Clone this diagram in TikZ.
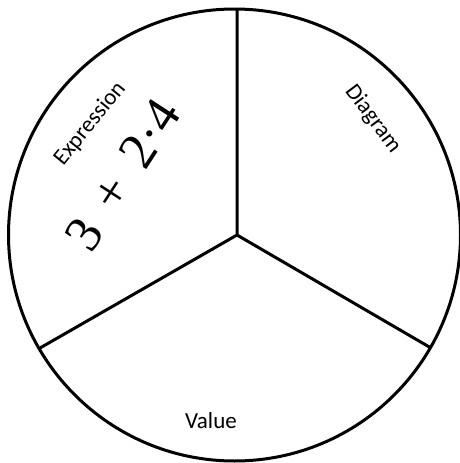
\documentclass[tikz,border=0pt]{standalone}
\usepackage{fontspec}
\setmainfont{Carlito}
\newfontfamily\serifnum{Liberation Serif}
\begin{document}
\begin{tikzpicture}[x=1pt,y=-1pt,line width=3pt,
	lbl/.style={font=\fontsize{23}{27}\selectfont},
	expr/.style={font=\serifnum\fontsize{52}{60}\selectfont}]
	\useasboundingbox (0,0) rectangle (460,463);
	\coordinate (mid) at (234.5,235);
	\coordinate (hub) at (237,235);
	\coordinate (top) at (237,9);
	\coordinate (left) at (40,348);
	\coordinate (right) at (431,348);
	\draw (mid) circle (226pt);
	\draw (hub)--(top) (hub)--(left) (hub)--(right);
	\node[lbl,rotate=51] (expression) at (90,124) {Expression};
	\node[expr,rotate=57] (sum) at (123,175) {3 \,+\, 2·4};
	\node[lbl,rotate=-53] (diagram) at (373,119) {Diagram};
	\node[lbl] (value) at (211,421) {Value};
\end{tikzpicture}
\end{document}
